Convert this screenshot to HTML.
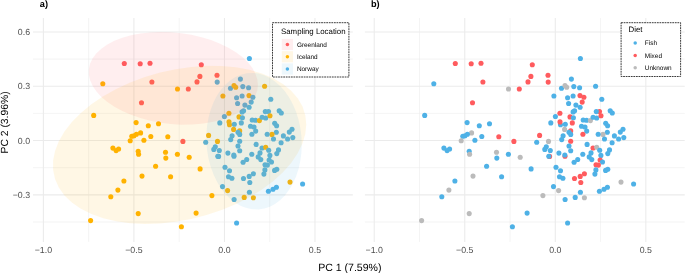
<!DOCTYPE html>
<html><head><meta charset="utf-8"><style>
html,body{margin:0;padding:0;background:#fff;}
body{width:685px;height:273px;overflow:hidden;font-family:"Liberation Sans",sans-serif;}
svg{display:block;will-change:transform;} text{text-rendering:geometricPrecision;}
</style></head><body>
<svg width="685" height="273" viewBox="0 0 685 273">
<rect x="0" y="0" width="685" height="273" fill="#fff"/>
<line x1="88.65" y1="18.0" x2="88.65" y2="241.9" stroke="#EBEBEB" stroke-width="0.53"/>
<line x1="179.18" y1="18.0" x2="179.18" y2="241.9" stroke="#EBEBEB" stroke-width="0.53"/>
<line x1="269.72" y1="18.0" x2="269.72" y2="241.9" stroke="#EBEBEB" stroke-width="0.53"/>
<line x1="33.0" y1="59.10" x2="352.8" y2="59.10" stroke="#EBEBEB" stroke-width="0.53"/>
<line x1="33.0" y1="113.40" x2="352.8" y2="113.40" stroke="#EBEBEB" stroke-width="0.53"/>
<line x1="33.0" y1="167.70" x2="352.8" y2="167.70" stroke="#EBEBEB" stroke-width="0.53"/>
<line x1="33.0" y1="222.00" x2="352.8" y2="222.00" stroke="#EBEBEB" stroke-width="0.53"/>
<line x1="43.38" y1="18.0" x2="43.38" y2="241.9" stroke="#EBEBEB" stroke-width="1.07"/>
<line x1="133.91" y1="18.0" x2="133.91" y2="241.9" stroke="#EBEBEB" stroke-width="1.07"/>
<line x1="224.45" y1="18.0" x2="224.45" y2="241.9" stroke="#EBEBEB" stroke-width="1.07"/>
<line x1="314.99" y1="18.0" x2="314.99" y2="241.9" stroke="#EBEBEB" stroke-width="1.07"/>
<line x1="33.0" y1="31.95" x2="352.8" y2="31.95" stroke="#EBEBEB" stroke-width="1.07"/>
<line x1="33.0" y1="86.25" x2="352.8" y2="86.25" stroke="#EBEBEB" stroke-width="1.07"/>
<line x1="33.0" y1="140.55" x2="352.8" y2="140.55" stroke="#EBEBEB" stroke-width="1.07"/>
<line x1="33.0" y1="194.85" x2="352.8" y2="194.85" stroke="#EBEBEB" stroke-width="1.07"/>
<line x1="419.50" y1="18.0" x2="419.50" y2="241.9" stroke="#EBEBEB" stroke-width="0.53"/>
<line x1="510.03" y1="18.0" x2="510.03" y2="241.9" stroke="#EBEBEB" stroke-width="0.53"/>
<line x1="600.57" y1="18.0" x2="600.57" y2="241.9" stroke="#EBEBEB" stroke-width="0.53"/>
<line x1="364.9" y1="59.10" x2="684.7" y2="59.10" stroke="#EBEBEB" stroke-width="0.53"/>
<line x1="364.9" y1="113.40" x2="684.7" y2="113.40" stroke="#EBEBEB" stroke-width="0.53"/>
<line x1="364.9" y1="167.70" x2="684.7" y2="167.70" stroke="#EBEBEB" stroke-width="0.53"/>
<line x1="364.9" y1="222.00" x2="684.7" y2="222.00" stroke="#EBEBEB" stroke-width="0.53"/>
<line x1="374.23" y1="18.0" x2="374.23" y2="241.9" stroke="#EBEBEB" stroke-width="1.07"/>
<line x1="464.76" y1="18.0" x2="464.76" y2="241.9" stroke="#EBEBEB" stroke-width="1.07"/>
<line x1="555.30" y1="18.0" x2="555.30" y2="241.9" stroke="#EBEBEB" stroke-width="1.07"/>
<line x1="645.84" y1="18.0" x2="645.84" y2="241.9" stroke="#EBEBEB" stroke-width="1.07"/>
<line x1="364.9" y1="31.95" x2="684.7" y2="31.95" stroke="#EBEBEB" stroke-width="1.07"/>
<line x1="364.9" y1="86.25" x2="684.7" y2="86.25" stroke="#EBEBEB" stroke-width="1.07"/>
<line x1="364.9" y1="140.55" x2="684.7" y2="140.55" stroke="#EBEBEB" stroke-width="1.07"/>
<line x1="364.9" y1="194.85" x2="684.7" y2="194.85" stroke="#EBEBEB" stroke-width="1.07"/>
<circle cx="124.3" cy="63.5" r="2.55" fill="#FF5B5E"/>
<circle cx="140.2" cy="63.7" r="2.55" fill="#FF5B5E"/>
<circle cx="150.0" cy="63.3" r="2.55" fill="#FF5B5E"/>
<circle cx="151.9" cy="82.0" r="2.55" fill="#FF5B5E"/>
<circle cx="102.8" cy="83.7" r="2.55" fill="#FFB300"/>
<circle cx="201.3" cy="64.7" r="2.55" fill="#FF5B5E"/>
<circle cx="199.9" cy="76.4" r="2.55" fill="#FF5B5E"/>
<circle cx="217.0" cy="75.3" r="2.55" fill="#FF5B5E"/>
<circle cx="197.0" cy="81.9" r="2.55" fill="#FF5B5E"/>
<circle cx="217.2" cy="82.1" r="2.55" fill="#4EB1E6"/>
<circle cx="240.4" cy="79.1" r="2.55" fill="#4EB1E6"/>
<circle cx="249.4" cy="58.5" r="2.55" fill="#4EB1E6"/>
<circle cx="141.5" cy="102.7" r="2.55" fill="#FF5B5E"/>
<circle cx="177.5" cy="89.0" r="2.55" fill="#FFB300"/>
<circle cx="188.3" cy="89.0" r="2.55" fill="#FF5B5E"/>
<circle cx="230.5" cy="88.3" r="2.55" fill="#4EB1E6"/>
<circle cx="234.0" cy="85.6" r="2.55" fill="#FFB300"/>
<circle cx="235.7" cy="87.2" r="2.55" fill="#FFB300"/>
<circle cx="242.8" cy="86.6" r="2.55" fill="#4EB1E6"/>
<circle cx="248.6" cy="87.7" r="2.55" fill="#4EB1E6"/>
<circle cx="264.6" cy="86.2" r="2.55" fill="#FFB300"/>
<circle cx="222.9" cy="96.0" r="2.55" fill="#FFB300"/>
<circle cx="236.6" cy="97.8" r="2.55" fill="#4EB1E6"/>
<circle cx="242.1" cy="96.0" r="2.55" fill="#4EB1E6"/>
<circle cx="249.0" cy="95.6" r="2.55" fill="#FFB300"/>
<circle cx="252.9" cy="97.2" r="2.55" fill="#4EB1E6"/>
<circle cx="251.2" cy="102.1" r="2.55" fill="#4EB1E6"/>
<circle cx="270.8" cy="99.3" r="2.55" fill="#4EB1E6"/>
<circle cx="237.6" cy="103.5" r="2.55" fill="#4EB1E6"/>
<circle cx="244.9" cy="105.1" r="2.55" fill="#4EB1E6"/>
<circle cx="249.1" cy="107.2" r="2.55" fill="#4EB1E6"/>
<circle cx="242.1" cy="111.9" r="2.55" fill="#4EB1E6"/>
<circle cx="243.6" cy="110.7" r="2.55" fill="#4EB1E6"/>
<circle cx="228.9" cy="113.2" r="2.55" fill="#FFB300"/>
<circle cx="224.4" cy="116.5" r="2.55" fill="#4EB1E6"/>
<circle cx="239.0" cy="116.9" r="2.55" fill="#FFB300"/>
<circle cx="242.4" cy="117.8" r="2.55" fill="#4EB1E6"/>
<circle cx="241.3" cy="122.9" r="2.55" fill="#4EB1E6"/>
<circle cx="229.5" cy="124.8" r="2.55" fill="#FFB300"/>
<circle cx="229.0" cy="121.9" r="2.55" fill="#FFB300"/>
<circle cx="234.3" cy="124.3" r="2.55" fill="#4EB1E6"/>
<circle cx="219.8" cy="122.9" r="2.55" fill="#4EB1E6"/>
<circle cx="252.2" cy="120.0" r="2.55" fill="#4EB1E6"/>
<circle cx="255.6" cy="120.2" r="2.55" fill="#4EB1E6"/>
<circle cx="259.4" cy="120.6" r="2.55" fill="#FFB300"/>
<circle cx="262.1" cy="117.3" r="2.55" fill="#4EB1E6"/>
<circle cx="265.7" cy="118.0" r="2.55" fill="#4EB1E6"/>
<circle cx="268.5" cy="111.6" r="2.55" fill="#4EB1E6"/>
<circle cx="265.3" cy="111.6" r="2.55" fill="#4EB1E6"/>
<circle cx="270.0" cy="115.8" r="2.55" fill="#FFB300"/>
<circle cx="274.7" cy="123.3" r="2.55" fill="#4EB1E6"/>
<circle cx="276.6" cy="125.8" r="2.55" fill="#4EB1E6"/>
<circle cx="279.2" cy="110.7" r="2.55" fill="#4EB1E6"/>
<circle cx="281.3" cy="113.0" r="2.55" fill="#4EB1E6"/>
<circle cx="250.5" cy="126.3" r="2.55" fill="#4EB1E6"/>
<circle cx="254.0" cy="127.0" r="2.55" fill="#4EB1E6"/>
<circle cx="255.7" cy="131.1" r="2.55" fill="#4EB1E6"/>
<circle cx="251.9" cy="134.2" r="2.55" fill="#4EB1E6"/>
<circle cx="233.6" cy="129.4" r="2.55" fill="#FFB300"/>
<circle cx="239.7" cy="130.9" r="2.55" fill="#FFB300"/>
<circle cx="238.0" cy="132.3" r="2.55" fill="#4EB1E6"/>
<circle cx="239.7" cy="134.4" r="2.55" fill="#4EB1E6"/>
<circle cx="232.1" cy="135.8" r="2.55" fill="#4EB1E6"/>
<circle cx="230.7" cy="139.6" r="2.55" fill="#4EB1E6"/>
<circle cx="239.7" cy="141.2" r="2.55" fill="#4EB1E6"/>
<circle cx="238.0" cy="146.0" r="2.55" fill="#4EB1E6"/>
<circle cx="208.6" cy="135.4" r="2.55" fill="#FFB300"/>
<circle cx="217.5" cy="141.4" r="2.55" fill="#FFB300"/>
<circle cx="215.3" cy="146.8" r="2.55" fill="#4EB1E6"/>
<circle cx="213.8" cy="149.4" r="2.55" fill="#4EB1E6"/>
<circle cx="219.3" cy="150.5" r="2.55" fill="#4EB1E6"/>
<circle cx="256.1" cy="144.4" r="2.55" fill="#4EB1E6"/>
<circle cx="262.0" cy="148.0" r="2.55" fill="#4EB1E6"/>
<circle cx="265.7" cy="147.2" r="2.55" fill="#FFB300"/>
<circle cx="268.7" cy="150.2" r="2.55" fill="#4EB1E6"/>
<circle cx="276.3" cy="132.3" r="2.55" fill="#4EB1E6"/>
<circle cx="272.0" cy="134.4" r="2.55" fill="#FFB300"/>
<circle cx="267.2" cy="134.2" r="2.55" fill="#4EB1E6"/>
<circle cx="273.5" cy="139.0" r="2.55" fill="#4EB1E6"/>
<circle cx="283.4" cy="135.9" r="2.55" fill="#4EB1E6"/>
<circle cx="289.3" cy="132.1" r="2.55" fill="#4EB1E6"/>
<circle cx="292.0" cy="129.2" r="2.55" fill="#4EB1E6"/>
<circle cx="287.6" cy="139.0" r="2.55" fill="#4EB1E6"/>
<circle cx="292.8" cy="137.6" r="2.55" fill="#4EB1E6"/>
<circle cx="281.1" cy="142.8" r="2.55" fill="#4EB1E6"/>
<circle cx="278.5" cy="149.9" r="2.55" fill="#4EB1E6"/>
<circle cx="276.8" cy="153.6" r="2.55" fill="#4EB1E6"/>
<circle cx="269.9" cy="155.4" r="2.55" fill="#4EB1E6"/>
<circle cx="260.0" cy="152.9" r="2.55" fill="#4EB1E6"/>
<circle cx="258.2" cy="156.9" r="2.55" fill="#4EB1E6"/>
<circle cx="260.8" cy="159.6" r="2.55" fill="#4EB1E6"/>
<circle cx="269.1" cy="160.0" r="2.55" fill="#4EB1E6"/>
<circle cx="271.5" cy="162.0" r="2.55" fill="#4EB1E6"/>
<circle cx="265.0" cy="164.8" r="2.55" fill="#4EB1E6"/>
<circle cx="267.4" cy="165.1" r="2.55" fill="#4EB1E6"/>
<circle cx="251.8" cy="154.2" r="2.55" fill="#4EB1E6"/>
<circle cx="246.7" cy="159.5" r="2.55" fill="#4EB1E6"/>
<circle cx="243.1" cy="162.3" r="2.55" fill="#4EB1E6"/>
<circle cx="227.9" cy="153.1" r="2.55" fill="#4EB1E6"/>
<circle cx="234.0" cy="156.2" r="2.55" fill="#4EB1E6"/>
<circle cx="233.8" cy="155.0" r="2.55" fill="#4EB1E6"/>
<circle cx="218.6" cy="156.4" r="2.55" fill="#4EB1E6"/>
<circle cx="217.8" cy="156.3" r="2.55" fill="#4EB1E6"/>
<circle cx="239.7" cy="150.8" r="2.55" fill="#4EB1E6"/>
<circle cx="225.0" cy="167.3" r="2.55" fill="#4EB1E6"/>
<circle cx="229.5" cy="170.7" r="2.55" fill="#4EB1E6"/>
<circle cx="228.5" cy="176.8" r="2.55" fill="#4EB1E6"/>
<circle cx="231.9" cy="178.3" r="2.55" fill="#4EB1E6"/>
<circle cx="222.5" cy="186.6" r="2.55" fill="#4EB1E6"/>
<circle cx="227.6" cy="190.6" r="2.55" fill="#FFB300"/>
<circle cx="243.5" cy="178.5" r="2.55" fill="#4EB1E6"/>
<circle cx="249.2" cy="176.4" r="2.55" fill="#4EB1E6"/>
<circle cx="253.4" cy="173.7" r="2.55" fill="#4EB1E6"/>
<circle cx="249.8" cy="182.5" r="2.55" fill="#4EB1E6"/>
<circle cx="264.9" cy="169.9" r="2.55" fill="#4EB1E6"/>
<circle cx="263.9" cy="174.1" r="2.55" fill="#4EB1E6"/>
<circle cx="274.6" cy="170.4" r="2.55" fill="#4EB1E6"/>
<circle cx="276.8" cy="169.3" r="2.55" fill="#4EB1E6"/>
<circle cx="290.0" cy="182.1" r="2.55" fill="#FFB300"/>
<circle cx="302.6" cy="184.0" r="2.55" fill="#4EB1E6"/>
<circle cx="276.4" cy="187.3" r="2.55" fill="#4EB1E6"/>
<circle cx="273.0" cy="189.2" r="2.55" fill="#4EB1E6"/>
<circle cx="268.4" cy="191.2" r="2.55" fill="#4EB1E6"/>
<circle cx="211.9" cy="195.6" r="2.55" fill="#FFB300"/>
<circle cx="234.1" cy="199.5" r="2.55" fill="#4EB1E6"/>
<circle cx="244.2" cy="197.4" r="2.55" fill="#FFB300"/>
<circle cx="249.4" cy="192.2" r="2.55" fill="#4EB1E6"/>
<circle cx="253.4" cy="197.7" r="2.55" fill="#FFB300"/>
<circle cx="236.6" cy="223.0" r="2.55" fill="#4EB1E6"/>
<circle cx="93.7" cy="115.4" r="2.55" fill="#FFB300"/>
<circle cx="136.1" cy="122.6" r="2.55" fill="#FFB300"/>
<circle cx="148.3" cy="125.8" r="2.55" fill="#FFB300"/>
<circle cx="158.5" cy="123.7" r="2.55" fill="#FFB300"/>
<circle cx="140.6" cy="132.9" r="2.55" fill="#FFB300"/>
<circle cx="136.4" cy="134.3" r="2.55" fill="#FFB300"/>
<circle cx="134.0" cy="135.8" r="2.55" fill="#FFB300"/>
<circle cx="131.8" cy="136.2" r="2.55" fill="#FFB300"/>
<circle cx="150.8" cy="136.5" r="2.55" fill="#FFB300"/>
<circle cx="143.9" cy="140.3" r="2.55" fill="#FFB300"/>
<circle cx="130.2" cy="140.7" r="2.55" fill="#FFB300"/>
<circle cx="167.8" cy="136.7" r="2.55" fill="#FFB300"/>
<circle cx="182.9" cy="141.4" r="2.55" fill="#FF5B5E"/>
<circle cx="205.7" cy="142.2" r="2.55" fill="#4EB1E6"/>
<circle cx="112.9" cy="148.1" r="2.55" fill="#FFB300"/>
<circle cx="116.1" cy="150.6" r="2.55" fill="#FFB300"/>
<circle cx="118.6" cy="149.0" r="2.55" fill="#FFB300"/>
<circle cx="138.2" cy="151.2" r="2.55" fill="#FFB300"/>
<circle cx="138.6" cy="154.3" r="2.55" fill="#FFB300"/>
<circle cx="155.6" cy="166.2" r="2.55" fill="#FFB300"/>
<circle cx="165.5" cy="152.2" r="2.55" fill="#FFB300"/>
<circle cx="165.8" cy="158.1" r="2.55" fill="#FFB300"/>
<circle cx="177.4" cy="154.3" r="2.55" fill="#FFB300"/>
<circle cx="189.2" cy="157.2" r="2.55" fill="#FFB300"/>
<circle cx="200.1" cy="168.9" r="2.55" fill="#FFB300"/>
<circle cx="142.0" cy="176.1" r="2.55" fill="#FFB300"/>
<circle cx="123.9" cy="181.0" r="2.55" fill="#FFB300"/>
<circle cx="117.9" cy="190.1" r="2.55" fill="#FFB300"/>
<circle cx="110.8" cy="196.7" r="2.55" fill="#FFB300"/>
<circle cx="170.6" cy="176.7" r="2.55" fill="#FFB300"/>
<circle cx="90.6" cy="220.6" r="2.55" fill="#FFB300"/>
<circle cx="138.2" cy="213.6" r="2.55" fill="#FFB300"/>
<circle cx="196.1" cy="213.1" r="2.55" fill="#FFB300"/>
<circle cx="181.4" cy="226.8" r="2.55" fill="#FFB300"/>
<path d="M257.94,84.82 L257.30,90.42 L255.39,95.83 L252.23,100.97 L247.87,105.77 L242.39,110.16 L235.86,114.06 L228.38,117.42 L220.06,120.19 L211.04,122.32 L201.45,123.79 L191.43,124.56 L181.13,124.64 L170.72,124.01 L160.35,122.69 L150.17,120.70 L140.35,118.07 L131.02,114.83 L122.34,111.04 L114.42,106.76 L107.41,102.04 L101.39,96.97 L96.46,91.61 L92.70,86.05 L90.15,80.37 L88.87,74.66 L88.87,69.01 L90.15,63.50 L92.70,58.21 L96.46,53.23 L101.39,48.63 L107.41,44.48 L114.42,40.84 L122.34,37.77 L131.02,35.31 L140.35,33.51 L150.17,32.39 L160.35,31.96 L170.72,32.23 L181.13,33.21 L191.43,34.87 L201.45,37.18 L211.04,40.12 L220.06,43.64 L228.38,47.69 L235.86,52.20 L242.39,57.10 L247.87,62.33 L252.23,67.80 L255.39,73.43 L257.30,79.13 L257.94,84.82Z" fill="#FF5B5E" fill-opacity="0.1"/>
<path d="M306.27,124.37 L305.31,133.91 L302.44,143.62 L297.71,153.35 L291.19,162.95 L282.98,172.28 L273.20,181.19 L262.00,189.55 L249.55,197.23 L236.04,204.12 L221.68,210.11 L206.67,215.11 L191.26,219.05 L175.67,221.86 L160.13,223.50 L144.89,223.96 L130.18,223.21 L116.22,221.27 L103.21,218.18 L91.37,213.98 L80.86,208.73 L71.84,202.51 L64.46,195.41 L58.83,187.55 L55.02,179.05 L53.11,170.02 L53.11,160.61 L55.02,150.97 L58.83,141.23 L64.46,131.55 L71.84,122.07 L80.86,112.93 L91.37,104.28 L103.21,96.24 L116.22,88.94 L130.18,82.49 L144.89,76.99 L160.13,72.51 L175.67,69.13 L191.26,66.90 L206.67,65.85 L221.68,65.99 L236.04,67.34 L249.55,69.85 L262.00,73.51 L273.20,78.25 L282.98,83.99 L291.19,90.66 L297.71,98.15 L302.44,106.35 L305.31,115.13 L306.27,124.37Z" fill="#FFB300" fill-opacity="0.1"/>
<path d="M301.75,144.52 L301.39,152.88 L300.31,161.06 L298.53,168.93 L296.07,176.39 L292.98,183.32 L289.30,189.61 L285.08,195.16 L280.39,199.90 L275.30,203.74 L269.89,206.64 L264.24,208.55 L258.44,209.43 L252.56,209.28 L246.71,208.10 L240.97,205.91 L235.43,202.73 L230.17,198.63 L225.27,193.65 L220.81,187.88 L216.85,181.40 L213.46,174.31 L210.68,166.72 L208.56,158.74 L207.12,150.49 L206.40,142.11 L206.40,133.71 L207.12,125.43 L208.56,117.38 L210.68,109.70 L213.46,102.49 L216.85,95.87 L220.81,89.94 L225.27,84.79 L230.17,80.49 L235.43,77.11 L240.97,74.70 L246.71,73.30 L252.56,72.94 L258.44,73.60 L264.24,75.29 L269.89,77.98 L275.30,81.63 L280.39,86.18 L285.08,91.57 L289.30,97.70 L292.98,104.50 L296.07,111.86 L298.53,119.66 L300.31,127.78 L301.39,136.11 L301.75,144.52Z" fill="#4EB1E6" fill-opacity="0.1"/>
<circle cx="455.3" cy="63.5" r="2.55" fill="#FF5B5E"/>
<circle cx="471.2" cy="63.7" r="2.55" fill="#FF5B5E"/>
<circle cx="481.0" cy="63.3" r="2.55" fill="#FF5B5E"/>
<circle cx="482.9" cy="82.0" r="2.55" fill="#FF5B5E"/>
<circle cx="433.8" cy="83.7" r="2.55" fill="#4EB1E6"/>
<circle cx="532.3" cy="64.7" r="2.55" fill="#FF5B5E"/>
<circle cx="530.9" cy="76.4" r="2.55" fill="#FF5B5E"/>
<circle cx="548.0" cy="75.3" r="2.55" fill="#FF5B5E"/>
<circle cx="528.0" cy="81.9" r="2.55" fill="#FF5B5E"/>
<circle cx="548.2" cy="82.1" r="2.55" fill="#FF5B5E"/>
<circle cx="571.4" cy="79.1" r="2.55" fill="#4EB1E6"/>
<circle cx="580.4" cy="58.5" r="2.55" fill="#4EB1E6"/>
<circle cx="472.5" cy="102.7" r="2.55" fill="#FF5B5E"/>
<circle cx="508.5" cy="89.0" r="2.55" fill="#BBBBBB"/>
<circle cx="519.3" cy="89.0" r="2.55" fill="#FF5B5E"/>
<circle cx="561.5" cy="88.3" r="2.55" fill="#4EB1E6"/>
<circle cx="565.0" cy="85.6" r="2.55" fill="#BBBBBB"/>
<circle cx="566.7" cy="87.2" r="2.55" fill="#BBBBBB"/>
<circle cx="573.8" cy="86.6" r="2.55" fill="#4EB1E6"/>
<circle cx="579.6" cy="87.7" r="2.55" fill="#4EB1E6"/>
<circle cx="595.6" cy="86.2" r="2.55" fill="#4EB1E6"/>
<circle cx="553.9" cy="96.0" r="2.55" fill="#4EB1E6"/>
<circle cx="567.6" cy="97.8" r="2.55" fill="#4EB1E6"/>
<circle cx="573.1" cy="96.0" r="2.55" fill="#4EB1E6"/>
<circle cx="580.0" cy="95.6" r="2.55" fill="#FF5B5E"/>
<circle cx="583.9" cy="97.2" r="2.55" fill="#FF5B5E"/>
<circle cx="582.2" cy="102.1" r="2.55" fill="#FF5B5E"/>
<circle cx="601.8" cy="99.3" r="2.55" fill="#4EB1E6"/>
<circle cx="568.6" cy="103.5" r="2.55" fill="#4EB1E6"/>
<circle cx="575.9" cy="105.1" r="2.55" fill="#4EB1E6"/>
<circle cx="580.1" cy="107.2" r="2.55" fill="#4EB1E6"/>
<circle cx="573.1" cy="111.9" r="2.55" fill="#4EB1E6"/>
<circle cx="574.6" cy="110.7" r="2.55" fill="#4EB1E6"/>
<circle cx="559.9" cy="113.2" r="2.55" fill="#FF5B5E"/>
<circle cx="555.4" cy="116.5" r="2.55" fill="#4EB1E6"/>
<circle cx="570.0" cy="116.9" r="2.55" fill="#FF5B5E"/>
<circle cx="573.4" cy="117.8" r="2.55" fill="#4EB1E6"/>
<circle cx="572.3" cy="122.9" r="2.55" fill="#FF5B5E"/>
<circle cx="560.5" cy="124.8" r="2.55" fill="#4EB1E6"/>
<circle cx="560.0" cy="121.9" r="2.55" fill="#FF5B5E"/>
<circle cx="565.3" cy="124.3" r="2.55" fill="#4EB1E6"/>
<circle cx="550.8" cy="122.9" r="2.55" fill="#4EB1E6"/>
<circle cx="583.2" cy="120.0" r="2.55" fill="#4EB1E6"/>
<circle cx="586.6" cy="120.2" r="2.55" fill="#4EB1E6"/>
<circle cx="590.4" cy="120.6" r="2.55" fill="#BBBBBB"/>
<circle cx="593.1" cy="117.3" r="2.55" fill="#4EB1E6"/>
<circle cx="596.7" cy="118.0" r="2.55" fill="#4EB1E6"/>
<circle cx="599.5" cy="111.6" r="2.55" fill="#FF5B5E"/>
<circle cx="596.3" cy="111.6" r="2.55" fill="#4EB1E6"/>
<circle cx="601.0" cy="115.8" r="2.55" fill="#FF5B5E"/>
<circle cx="605.7" cy="123.3" r="2.55" fill="#4EB1E6"/>
<circle cx="607.6" cy="125.8" r="2.55" fill="#4EB1E6"/>
<circle cx="610.2" cy="110.7" r="2.55" fill="#4EB1E6"/>
<circle cx="612.3" cy="113.0" r="2.55" fill="#4EB1E6"/>
<circle cx="581.5" cy="126.3" r="2.55" fill="#4EB1E6"/>
<circle cx="585.0" cy="127.0" r="2.55" fill="#4EB1E6"/>
<circle cx="586.7" cy="131.1" r="2.55" fill="#4EB1E6"/>
<circle cx="582.9" cy="134.2" r="2.55" fill="#FF5B5E"/>
<circle cx="564.6" cy="129.4" r="2.55" fill="#BBBBBB"/>
<circle cx="570.7" cy="130.9" r="2.55" fill="#FF5B5E"/>
<circle cx="569.0" cy="132.3" r="2.55" fill="#4EB1E6"/>
<circle cx="570.7" cy="134.4" r="2.55" fill="#4EB1E6"/>
<circle cx="563.1" cy="135.8" r="2.55" fill="#4EB1E6"/>
<circle cx="561.7" cy="139.6" r="2.55" fill="#4EB1E6"/>
<circle cx="570.7" cy="141.2" r="2.55" fill="#FF5B5E"/>
<circle cx="569.0" cy="146.0" r="2.55" fill="#4EB1E6"/>
<circle cx="539.6" cy="135.4" r="2.55" fill="#FF5B5E"/>
<circle cx="548.5" cy="141.4" r="2.55" fill="#BBBBBB"/>
<circle cx="546.3" cy="146.8" r="2.55" fill="#4EB1E6"/>
<circle cx="544.8" cy="149.4" r="2.55" fill="#4EB1E6"/>
<circle cx="550.3" cy="150.5" r="2.55" fill="#4EB1E6"/>
<circle cx="587.1" cy="144.4" r="2.55" fill="#4EB1E6"/>
<circle cx="593.0" cy="148.0" r="2.55" fill="#FF5B5E"/>
<circle cx="596.7" cy="147.2" r="2.55" fill="#BBBBBB"/>
<circle cx="599.7" cy="150.2" r="2.55" fill="#4EB1E6"/>
<circle cx="607.3" cy="132.3" r="2.55" fill="#4EB1E6"/>
<circle cx="603.0" cy="134.4" r="2.55" fill="#BBBBBB"/>
<circle cx="598.2" cy="134.2" r="2.55" fill="#4EB1E6"/>
<circle cx="604.5" cy="139.0" r="2.55" fill="#4EB1E6"/>
<circle cx="614.4" cy="135.9" r="2.55" fill="#4EB1E6"/>
<circle cx="620.3" cy="132.1" r="2.55" fill="#4EB1E6"/>
<circle cx="623.0" cy="129.2" r="2.55" fill="#4EB1E6"/>
<circle cx="618.6" cy="139.0" r="2.55" fill="#4EB1E6"/>
<circle cx="623.8" cy="137.6" r="2.55" fill="#4EB1E6"/>
<circle cx="612.1" cy="142.8" r="2.55" fill="#4EB1E6"/>
<circle cx="609.5" cy="149.9" r="2.55" fill="#4EB1E6"/>
<circle cx="607.8" cy="153.6" r="2.55" fill="#4EB1E6"/>
<circle cx="600.9" cy="155.4" r="2.55" fill="#4EB1E6"/>
<circle cx="591.0" cy="152.9" r="2.55" fill="#4EB1E6"/>
<circle cx="589.2" cy="156.9" r="2.55" fill="#4EB1E6"/>
<circle cx="591.8" cy="159.6" r="2.55" fill="#4EB1E6"/>
<circle cx="600.1" cy="160.0" r="2.55" fill="#FF5B5E"/>
<circle cx="602.5" cy="162.0" r="2.55" fill="#4EB1E6"/>
<circle cx="596.0" cy="164.8" r="2.55" fill="#FF5B5E"/>
<circle cx="598.4" cy="165.1" r="2.55" fill="#FF5B5E"/>
<circle cx="582.8" cy="154.2" r="2.55" fill="#4EB1E6"/>
<circle cx="577.7" cy="159.5" r="2.55" fill="#4EB1E6"/>
<circle cx="574.1" cy="162.3" r="2.55" fill="#4EB1E6"/>
<circle cx="558.9" cy="153.1" r="2.55" fill="#4EB1E6"/>
<circle cx="565.0" cy="156.2" r="2.55" fill="#FF5B5E"/>
<circle cx="564.8" cy="155.0" r="2.55" fill="#4EB1E6"/>
<circle cx="549.6" cy="156.4" r="2.55" fill="#FF5B5E"/>
<circle cx="548.8" cy="156.3" r="2.55" fill="#4EB1E6"/>
<circle cx="570.7" cy="150.8" r="2.55" fill="#4EB1E6"/>
<circle cx="556.0" cy="167.3" r="2.55" fill="#4EB1E6"/>
<circle cx="560.5" cy="170.7" r="2.55" fill="#4EB1E6"/>
<circle cx="559.5" cy="176.8" r="2.55" fill="#4EB1E6"/>
<circle cx="562.9" cy="178.3" r="2.55" fill="#4EB1E6"/>
<circle cx="553.5" cy="186.6" r="2.55" fill="#4EB1E6"/>
<circle cx="558.6" cy="190.6" r="2.55" fill="#BBBBBB"/>
<circle cx="574.5" cy="178.5" r="2.55" fill="#FF5B5E"/>
<circle cx="580.2" cy="176.4" r="2.55" fill="#FF5B5E"/>
<circle cx="584.4" cy="173.7" r="2.55" fill="#FF5B5E"/>
<circle cx="580.8" cy="182.5" r="2.55" fill="#FF5B5E"/>
<circle cx="595.9" cy="169.9" r="2.55" fill="#4EB1E6"/>
<circle cx="594.9" cy="174.1" r="2.55" fill="#4EB1E6"/>
<circle cx="605.6" cy="170.4" r="2.55" fill="#4EB1E6"/>
<circle cx="607.8" cy="169.3" r="2.55" fill="#4EB1E6"/>
<circle cx="621.0" cy="182.1" r="2.55" fill="#BBBBBB"/>
<circle cx="633.6" cy="184.0" r="2.55" fill="#4EB1E6"/>
<circle cx="607.4" cy="187.3" r="2.55" fill="#4EB1E6"/>
<circle cx="604.0" cy="189.2" r="2.55" fill="#4EB1E6"/>
<circle cx="599.4" cy="191.2" r="2.55" fill="#4EB1E6"/>
<circle cx="542.9" cy="195.6" r="2.55" fill="#BBBBBB"/>
<circle cx="565.1" cy="199.5" r="2.55" fill="#4EB1E6"/>
<circle cx="575.2" cy="197.4" r="2.55" fill="#4EB1E6"/>
<circle cx="580.4" cy="192.2" r="2.55" fill="#4EB1E6"/>
<circle cx="584.4" cy="197.7" r="2.55" fill="#BBBBBB"/>
<circle cx="567.6" cy="223.0" r="2.55" fill="#4EB1E6"/>
<circle cx="424.7" cy="115.4" r="2.55" fill="#4EB1E6"/>
<circle cx="467.1" cy="122.6" r="2.55" fill="#4EB1E6"/>
<circle cx="479.3" cy="125.8" r="2.55" fill="#4EB1E6"/>
<circle cx="489.5" cy="123.7" r="2.55" fill="#4EB1E6"/>
<circle cx="471.6" cy="132.9" r="2.55" fill="#BBBBBB"/>
<circle cx="467.4" cy="134.3" r="2.55" fill="#4EB1E6"/>
<circle cx="465.0" cy="135.8" r="2.55" fill="#4EB1E6"/>
<circle cx="462.8" cy="136.2" r="2.55" fill="#4EB1E6"/>
<circle cx="481.8" cy="136.5" r="2.55" fill="#4EB1E6"/>
<circle cx="474.9" cy="140.3" r="2.55" fill="#4EB1E6"/>
<circle cx="461.2" cy="140.7" r="2.55" fill="#BBBBBB"/>
<circle cx="498.8" cy="136.7" r="2.55" fill="#FF5B5E"/>
<circle cx="513.9" cy="141.4" r="2.55" fill="#FF5B5E"/>
<circle cx="536.7" cy="142.2" r="2.55" fill="#4EB1E6"/>
<circle cx="443.9" cy="148.1" r="2.55" fill="#4EB1E6"/>
<circle cx="447.1" cy="150.6" r="2.55" fill="#4EB1E6"/>
<circle cx="449.6" cy="149.0" r="2.55" fill="#4EB1E6"/>
<circle cx="469.2" cy="151.2" r="2.55" fill="#4EB1E6"/>
<circle cx="469.6" cy="154.3" r="2.55" fill="#BBBBBB"/>
<circle cx="486.6" cy="166.2" r="2.55" fill="#4EB1E6"/>
<circle cx="496.5" cy="152.2" r="2.55" fill="#BBBBBB"/>
<circle cx="496.8" cy="158.1" r="2.55" fill="#4EB1E6"/>
<circle cx="508.4" cy="154.3" r="2.55" fill="#4EB1E6"/>
<circle cx="520.2" cy="157.2" r="2.55" fill="#BBBBBB"/>
<circle cx="531.1" cy="168.9" r="2.55" fill="#4EB1E6"/>
<circle cx="473.0" cy="176.1" r="2.55" fill="#BBBBBB"/>
<circle cx="454.9" cy="181.0" r="2.55" fill="#4EB1E6"/>
<circle cx="448.9" cy="190.1" r="2.55" fill="#BBBBBB"/>
<circle cx="441.8" cy="196.7" r="2.55" fill="#4EB1E6"/>
<circle cx="501.6" cy="176.7" r="2.55" fill="#4EB1E6"/>
<circle cx="421.6" cy="220.6" r="2.55" fill="#BBBBBB"/>
<circle cx="469.2" cy="213.6" r="2.55" fill="#BBBBBB"/>
<circle cx="527.1" cy="213.1" r="2.55" fill="#4EB1E6"/>
<circle cx="512.4" cy="226.8" r="2.55" fill="#4EB1E6"/>
<text x="30.1" y="35.15" font-family="Liberation Sans, sans-serif" font-size="8.8" fill="#4D4D4D" text-anchor="end">0.6</text>
<text x="30.1" y="89.45" font-family="Liberation Sans, sans-serif" font-size="8.8" fill="#4D4D4D" text-anchor="end">0.3</text>
<text x="30.1" y="143.75" font-family="Liberation Sans, sans-serif" font-size="8.8" fill="#4D4D4D" text-anchor="end">0.0</text>
<text x="30.1" y="198.05" font-family="Liberation Sans, sans-serif" font-size="8.8" fill="#4D4D4D" text-anchor="end">−0.3</text>
<text x="43.38" y="253.1" font-family="Liberation Sans, sans-serif" font-size="8.8" fill="#4D4D4D" text-anchor="middle">−1.0</text>
<text x="133.91" y="253.1" font-family="Liberation Sans, sans-serif" font-size="8.8" fill="#4D4D4D" text-anchor="middle">−0.5</text>
<text x="224.45" y="253.1" font-family="Liberation Sans, sans-serif" font-size="8.8" fill="#4D4D4D" text-anchor="middle">0.0</text>
<text x="314.99" y="253.1" font-family="Liberation Sans, sans-serif" font-size="8.8" fill="#4D4D4D" text-anchor="middle">0.5</text>
<text x="374.23" y="253.1" font-family="Liberation Sans, sans-serif" font-size="8.8" fill="#4D4D4D" text-anchor="middle">−1.0</text>
<text x="464.76" y="253.1" font-family="Liberation Sans, sans-serif" font-size="8.8" fill="#4D4D4D" text-anchor="middle">−0.5</text>
<text x="555.30" y="253.1" font-family="Liberation Sans, sans-serif" font-size="8.8" fill="#4D4D4D" text-anchor="middle">0.0</text>
<text x="645.84" y="253.1" font-family="Liberation Sans, sans-serif" font-size="8.8" fill="#4D4D4D" text-anchor="middle">0.5</text>
<text x="349.8" y="270.5" font-family="Liberation Sans, sans-serif" font-size="10.55" fill="#000" text-anchor="middle">PC 1 (7.59%)</text>
<text transform="translate(7.5,122.4) rotate(-90)" font-family="Liberation Sans, sans-serif" font-size="10.35" fill="#000" text-anchor="middle">PC 2 (3.96%)</text>
<text x="39.8" y="7.35" font-family="Liberation Sans, sans-serif" font-size="9.2" font-weight="bold" fill="#000">a)</text>
<text x="371" y="7.35" font-family="Liberation Sans, sans-serif" font-size="9.2" font-weight="bold" fill="#000">b)</text>
<rect x="272.5" y="22.7" width="76.39999999999998" height="54.3" fill="#fff" stroke="#333" stroke-width="0.95" stroke-dasharray="1.8 0.76" stroke-linejoin="round"/>
<text x="281.0" y="33.5" font-family="Liberation Sans, sans-serif" font-size="7.85" fill="#000">Sampling Location</text>
<rect x="281.8" y="38.90" width="11.2" height="11.2" fill="#FF5B5E" fill-opacity="0.1"/>
<circle cx="287.4" cy="44.50" r="1.75" fill="#FF5B5E"/>
<text x="296.9" y="46.70" font-family="Liberation Sans, sans-serif" font-size="6.45" fill="#000">Greenland</text>
<rect x="281.8" y="51.15" width="11.2" height="11.2" fill="#FFB300" fill-opacity="0.1"/>
<circle cx="287.4" cy="56.75" r="1.75" fill="#FFB300"/>
<text x="296.9" y="58.95" font-family="Liberation Sans, sans-serif" font-size="6.45" fill="#000">Iceland</text>
<rect x="281.8" y="63.40" width="11.2" height="11.2" fill="#4EB1E6" fill-opacity="0.1"/>
<circle cx="287.4" cy="69.00" r="1.75" fill="#4EB1E6"/>
<text x="296.9" y="71.20" font-family="Liberation Sans, sans-serif" font-size="6.45" fill="#000">Norway</text>
<rect x="621.1" y="22.7" width="59.5" height="53.8" fill="#fff" stroke="#333" stroke-width="0.95" stroke-dasharray="1.8 0.76" stroke-linejoin="round"/>
<text x="628.6" y="32.2" font-family="Liberation Sans, sans-serif" font-size="7.85" fill="#000">Diet</text>
<circle cx="635.2" cy="43.00" r="1.75" fill="#4EB1E6"/>
<text x="644.8" y="45.20" font-family="Liberation Sans, sans-serif" font-size="6.45" fill="#000">Fish</text>
<circle cx="635.2" cy="55.40" r="1.75" fill="#FF5B5E"/>
<text x="644.8" y="57.60" font-family="Liberation Sans, sans-serif" font-size="6.45" fill="#000">Mixed</text>
<circle cx="635.2" cy="67.80" r="1.75" fill="#BBBBBB"/>
<text x="644.8" y="70.00" font-family="Liberation Sans, sans-serif" font-size="6.45" fill="#000">Unknown</text>
</svg>
</body></html>
